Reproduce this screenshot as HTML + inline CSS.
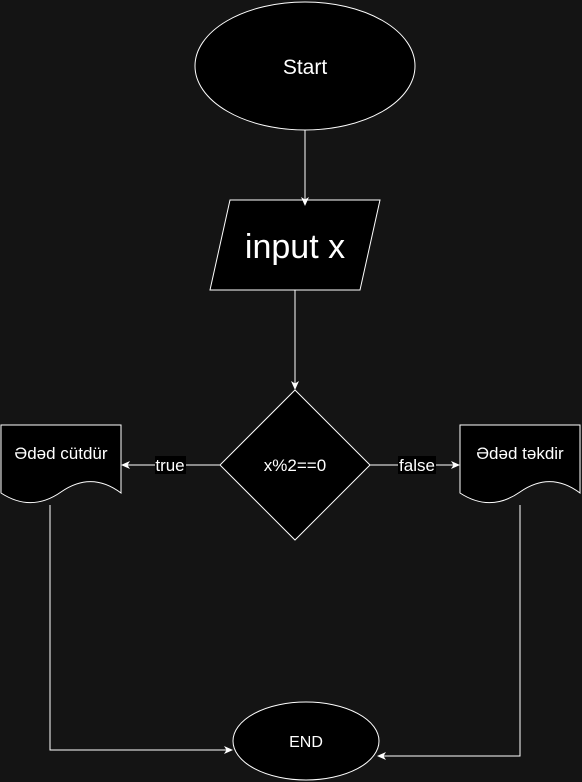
<!DOCTYPE html>
<html><head><style>
html,body{margin:0;padding:0;background:#141414;}
svg{display:block;}
text{font-family:"Liberation Sans",sans-serif;fill:#fff;}
</style></head><body>
<svg width="582" height="782" viewBox="0 0 582 782" xmlns="http://www.w3.org/2000/svg">
<defs>
<marker id="a" markerWidth="10" markerHeight="10" refX="8" refY="5" orient="auto" markerUnits="userSpaceOnUse">
<path d="M0,1 L9,5 L0,9 L2.5,5 Z" fill="#fff"/>
</marker>
</defs>
<g stroke="#fff" fill="#000" stroke-width="1">
<ellipse cx="305" cy="66" rx="110" ry="64"/>
<polygon points="230,200 380,200 360,290 210,290"/>
<polygon points="295,390 370,465 295,540 220,465"/>
<path d="M1,425 H121 V493 C101,478 81,478 61,492 C41,506 21,506 1,493 Z"/>
<path d="M460,425 H580 V493 C560,478 540,478 520,492 C500,506 480,506 460,493 Z"/>
<ellipse cx="306" cy="741" rx="73" ry="39"/>
</g>
<g stroke="#fff" fill="none" stroke-width="1">
<line x1="305" y1="130" x2="305" y2="205" marker-end="url(#a)"/>
<line x1="295" y1="290" x2="295" y2="389" marker-end="url(#a)"/>
<line x1="220" y1="465" x2="122" y2="465" marker-end="url(#a)"/>
<line x1="370" y1="465" x2="459" y2="465" marker-end="url(#a)"/>
<polyline points="50,505 50,750 232,750" marker-end="url(#a)"/>
<polyline points="520,505 520,756 378,756" marker-end="url(#a)"/>
</g>
<rect x="155" y="456" width="31" height="18" fill="#000"/>
<rect x="398" y="456" width="38" height="18" fill="#000"/>
<text x="170" y="471" font-size="17" text-anchor="middle">true</text>
<text x="417" y="471" font-size="17" text-anchor="middle">false</text>
<text x="305" y="74" font-size="21" text-anchor="middle">Start</text>
<text x="295" y="258" font-size="34" text-anchor="middle">input x</text>
<text x="295" y="471" font-size="17" text-anchor="middle">x%2==0</text>
<text x="61" y="459" font-size="17" text-anchor="middle">Ədəd cütdür</text>
<text x="520" y="459" font-size="17" text-anchor="middle">Ədəd təkdir</text>
<text x="306" y="747" font-size="16" text-anchor="middle">END</text>
</svg>
</body></html>
